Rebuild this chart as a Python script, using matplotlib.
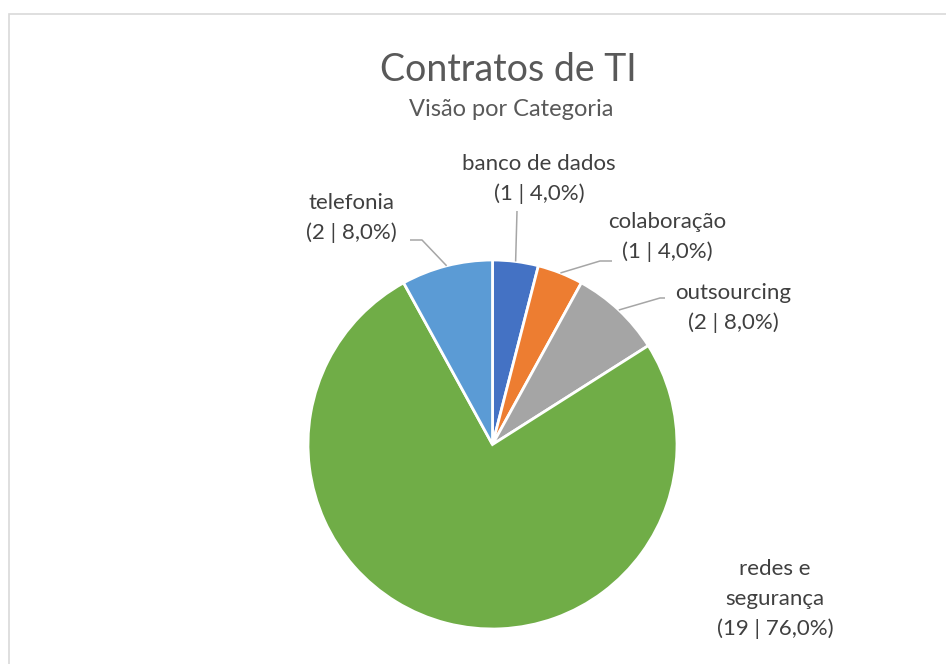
import numpy as np
import matplotlib.pyplot as plt
from matplotlib.patches import Rectangle

plt.rcParams['font.family'] = ['Lato', 'DejaVu Sans']

categories = ['banco de dados', 'colaboração', 'outsourcing', 'redes e\nsegurança', 'telefonia']
counts = [1, 1, 2, 19, 2]
colors = ['#4472C4', '#ED7D31', '#A5A5A5', '#70AD47', '#5B9BD5']

W, H = 946, 664
fig = plt.figure(figsize=(W / 100, H / 100), dpi=100)
ax = fig.add_axes([0, 0, 1, 1])

# frame of the chart area
fig.patches.append(Rectangle((8.5 / W, -0.1), 1.2, (H - 14) / H + 0.1,
                             transform=fig.transFigure, fill=False,
                             edgecolor='#D9D9D9', linewidth=1.2))

cx, cy, r = 492.5, H - 444.5, 184.5
wedges, _ = ax.pie(counts, colors=colors, startangle=90, counterclock=False,
                   center=(cx, cy), radius=r, frame=True,
                   wedgeprops=dict(edgecolor='white', linewidth=2))
ax.set_xlim(0, W)
ax.set_ylim(0, H)
ax.set_aspect('equal')
ax.axis('off')

total = sum(counts)
labels = [f'{c}\n({n} | {n / total * 100:.1f}%)'.replace('.', ',')
          for c, n in zip(categories, counts)]

# label centres and leader elbow/end points (pixels from the top)
label_pos = [(539, 179), (667, 237), (733, 308), (775, 599), (351, 218)]
leaders = [[(517, 211)], [(600, 261), (612, 261)], [(660, 298), (665, 298)],
           None, [(422, 240), (410, 240)]]

txt = '#404040'
for w, lab, (lx, ly), lead in zip(wedges, labels, label_pos, leaders):
    ax.text(lx, H - ly, lab, ha='center', va='center', fontsize=16,
            color=txt, linespacing=1.62)
    if lead is None:
        continue
    ang = np.deg2rad((w.theta1 + w.theta2) / 2)
    xs = [cx + r * np.cos(ang)] + [p[0] for p in lead]
    ys = [cy + r * np.sin(ang)] + [H - p[1] for p in lead]
    ax.plot(xs, ys, color='#A6A6A6', linewidth=1.1, solid_capstyle='butt')

ax.text(508, H - 70, 'Contratos de TI', ha='center', va='center',
        fontsize=27, color='#595959')
ax.text(511, H - 110, 'Visão por Categoria', ha='center', va='center',
        fontsize=17, color='#595959')

fig.savefig('out.png', dpi=100)
